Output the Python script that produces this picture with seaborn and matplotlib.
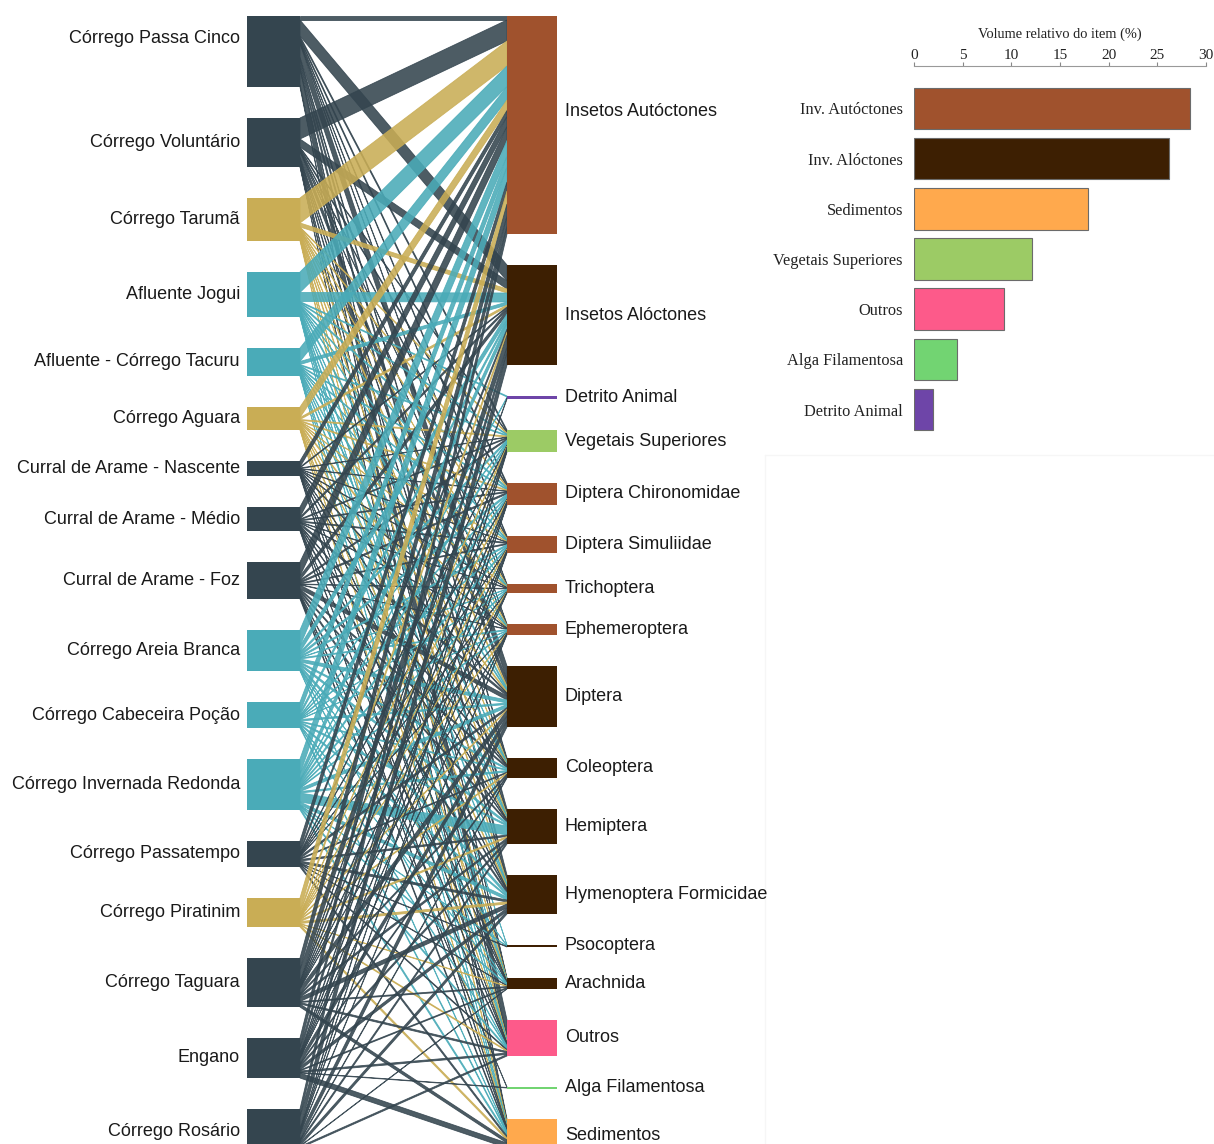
import numpy as np
import pandas as pd
import matplotlib
matplotlib.use("Agg")
import matplotlib.pyplot as plt
from matplotlib.patches import Polygon, Rectangle
import seaborn as sns

# ---------------- data ----------------
sites = ["Córrego Passa Cinco", "Córrego Voluntário", "Córrego Tarumã", "Afluente Jogui",
         "Afluente - Córrego Tacuru", "Córrego Aguara", "Curral de Arame - Nascente",
         "Curral de Arame - Médio", "Curral de Arame - Foz", "Córrego Areia Branca",
         "Córrego Cabeceira Poção", "Córrego Invernada Redonda", "Córrego Passatempo",
         "Córrego Piratinim", "Córrego Taguara", "Engano", "Córrego Rosário"]
site_group = ["slate", "slate", "gold", "teal", "teal", "gold", "slate", "slate", "slate",
              "teal", "teal", "teal", "slate", "gold", "slate", "slate", "slate"]

items = ["Insetos Autóctones", "Insetos Alóctones", "Detrito Animal", "Vegetais Superiores",
         "Diptera Chironomidae", "Diptera Simuliidae", "Trichoptera", "Ephemeroptera",
         "Diptera", "Coleoptera", "Hemiptera", "Hymenoptera Formicidae", "Psocoptera",
         "Arachnida", "Outros", "Alga Filamentosa", "Sedimentos"]
item_group = ["aut", "alo", "det", "veg", "aut", "aut", "aut", "aut", "alo", "alo", "alo",
              "alo", "alo", "alo", "out", "alg", "sed"]

# link weights: one row per site, one column per item (same order as above)
links = [
    [4, 16, 0, 2, 2, 1.5, 1, 1, 14, 2, 4, 4.5, 0, 1, 16, 0, 2],
    [21, 8, 0, 1, 1.5, 1, .5, .5, 6, 1.5, 1.5, 2, 0, .5, 3, 0, 1],
    [25, 4, 0, 1, 1, 1, .5, .5, 2, 1, 1.5, 2, 0, .5, 1, 0, 2],
    [20.5, 9, 1, 1, 1.5, 1, .5, 1, 2, 1, 1.5, 2, .5, .5, 1, 0, 1],
    [13.5, 3, 0, 1, 1, 1, .5, .5, 1.5, 1, 1, 1.5, 0, .5, 1, 0, 1],
    [10.5, 2, 0, 1, 1, .5, .5, .5, 1.5, .5, 1, 1.5, 0, .5, 1, 0, 1],
    [6, 1, 0, .5, .5, .5, .5, .5, 1, .5, .5, 1, 0, .5, .5, 0, 1.5],
    [10, 2, 0, 1, 1, 1, .5, .5, 2, 1, 1, 1.5, 0, .5, 1, 0, 1],
    [14, 4, 0, 1.5, 1.5, 1, .5, .5, 4, 1.5, 1.5, 2, 0, 1, 1.5, .5, 2],
    [16, 6, 0, 2, 2, 1.5, .5, 1, 3, 1.5, 2, 2.5, .5, .5, 1, 0, 1],
    [10.5, 3, 0, 1, 1, 1, .5, .5, 1.5, 1, 1.5, 1.5, 0, .5, 1, 0, 1.5],
    [15, 6, 1, 2, 2, 1.5, 1, 1, 3, 1.5, 9, 3, .5, 1, 1.5, 0, 2],
    [9, 3, 0, 1, 1, .5, .5, .5, 2, 1, 1.5, 2, .5, .5, 1, 0, 2],
    [13, 3, 0, 1, 1, 1, .5, .5, 1, 1, 1.5, 2, 0, .5, 1, 0, 2],
    [12, 12, 1, 2, 1.5, 1, .5, .5, 5.5, 1.5, 2, 4, 0, 1, 1.5, 0, 3],
    [10, 5.5, 0, 1.5, 1.5, 1, .5, .5, 5, 1.5, 2, 3, 0, 1, 1.5, .5, 5],
    [8, 12.5, 0, 1.5, 1, 1, 0, 1, 6, 1, 2, 3, 0, .5, 1.5, 0, 5],
]

# relative volume of each food item (%)
bar_items = ["Inv. Autóctones", "Inv. Alóctones", "Sedimentos", "Vegetais Superiores",
             "Outros", "Alga Filamentosa", "Detrito Animal"]
bar_volume = [28.4, 26.2, 17.9, 12.1, 9.2, 4.4, 2.0]

# ---------------- style ----------------
site_colors = {"slate": "#34454f", "gold": "#c9ad55", "teal": "#4aabb8"}
item_colors = {"aut": "#a0522d", "alo": "#3d1f02", "det": "#6e45a8", "veg": "#9ccb65",
               "out": "#fd5a8a", "alg": "#72d472", "sed": "#ffa94d"}
bar_colors = ["#a0522d", "#3d1f02", "#ffa94d", "#9ccb65", "#fd5a8a", "#72d472", "#6e45a8"]

# vertical nudges (in px) for a couple of labels that sit above their node centre
label_nudge = {"Córrego Passa Cinco": -13, "Insetos Autóctones": -13}

sns.set_theme(style="white")
plt.rcParams["font.family"] = ["Liberation Sans", "DejaVu Sans"]

W_PX, H_PX = 1214, 1144
fig = plt.figure(figsize=(W_PX / 100, H_PX / 100), dpi=100)
ax = fig.add_axes([0, 0, 1, 1])
ax.set_xlim(0, W_PX)
ax.set_ylim(H_PX, 0)
ax.axis("off")

# ---------------- sankey layout ----------------
W = np.array(links, dtype=float)
scale = 1.0          # pixels per unit of weight
pad = 31.0           # vertical gap between nodes
top0 = 16.0
lx0, lx1 = 247, 300  # left node column
rx0, rx1 = 507, 557  # right node column

left_h = W.sum(axis=1) * scale
right_h = W.sum(axis=0) * scale


def stacked_tops(heights):
    return top0 + np.concatenate([[0], np.cumsum(heights)[:-1]]) + pad * np.arange(len(heights))


left_top = stacked_tops(left_h)
right_top = stacked_tops(right_h)

# offsets of each link inside its source node (ordered by item) and target node (ordered by site)
src_off = np.cumsum(W * scale, axis=1) - W * scale
tgt_off = np.cumsum(W * scale, axis=0) - W * scale

for i in range(W.shape[0]):
    col = site_colors[site_group[i]]
    for j in range(W.shape[1]):
        w = W[i, j] * scale
        if w <= 0:
            continue
        sy = left_top[i] + src_off[i, j]
        ty = right_top[j] + tgt_off[i, j]
        poly = Polygon([(lx1, sy), (rx0, ty), (rx0, ty + w), (lx1, sy + w)], closed=True,
                       facecolor=col, edgecolor=col, linewidth=0.6, alpha=0.88, zorder=2)
        ax.add_patch(poly)

for i, name in enumerate(sites):
    ax.add_patch(Rectangle((lx0, left_top[i]), lx1 - lx0, left_h[i],
                           facecolor=site_colors[site_group[i]], edgecolor="none", zorder=3))
    ax.text(240, left_top[i] + left_h[i] / 2 + label_nudge.get(name, 0), name,
            ha="right", va="center", fontsize=13, color="#1a1a1a", zorder=4)

for j, name in enumerate(items):
    h = max(right_h[j], 2.0)
    yc = right_top[j] + right_h[j] / 2
    ax.add_patch(Rectangle((rx0, yc - h / 2), rx1 - rx0, h,
                           facecolor=item_colors[item_group[j]], edgecolor="none", zorder=3))
    ax.text(565, yc + label_nudge.get(name, 0), name, ha="left", va="center",
            fontsize=13, color="#1a1a1a", zorder=4)

# faint frame line around the lower-right blank panel
ax.plot([765, W_PX], [455, 455], color="#f6f6f6", lw=1, zorder=1)
ax.plot([765, 765], [455, H_PX], color="#f6f6f6", lw=1, zorder=1)

# ---------------- inset bar chart ----------------
ax_b = fig.add_axes([914 / W_PX, 1 - 452 / H_PX, 292 / W_PX, 386 / H_PX])
ax_b.patch.set_alpha(0)
df = pd.DataFrame({"item": bar_items, "volume": bar_volume})
sns.barplot(data=df, x="volume", y="item", hue="item", palette=bar_colors, legend=False,
            orient="h", width=0.83, saturation=1, edgecolor="#6b6b6b", linewidth=0.8,
            ax=ax_b)
ax_b.set_xlim(0, 30)
ax_b.set_ylim(6.847, -0.847)
ax_b.set_xticks([0, 5, 10, 15, 20, 25, 30])
ax_b.xaxis.tick_top()
ax_b.xaxis.set_label_position("top")
serif = ["Liberation Serif", "DejaVu Serif"]
ax_b.set_xlabel("Volume relativo do item (%)", fontsize=10.4, family=serif,
                color="#222222", labelpad=8)
ax_b.set_ylabel("")
for lab in ax_b.get_xticklabels():
    lab.set_family(serif)
    lab.set_fontsize(11)
    lab.set_color("#222222")
for lab in ax_b.get_yticklabels():
    lab.set_family(serif)
    lab.set_fontsize(11.8)
    lab.set_color("#222222")
ax_b.tick_params(axis="x", which="both", top=True, bottom=False, direction="out",
                 length=3, width=0.8, color="#888888", pad=0)
ax_b.tick_params(axis="y", length=0, pad=8)
for side in ["left", "right", "bottom"]:
    ax_b.spines[side].set_visible(False)
ax_b.spines["top"].set_color("#999999")
ax_b.spines["top"].set_linewidth(0.8)
ax_b.grid(False)

fig.savefig("out.png", dpi=100, facecolor="white")
